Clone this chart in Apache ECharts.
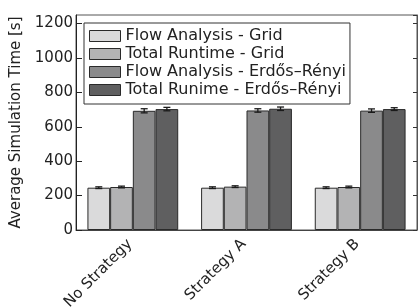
<!DOCTYPE html>
<html>
<head>
<meta charset="utf-8">
<script src="https://cdn.jsdelivr.net/npm/echarts@6/dist/echarts.min.js"></script>
<style>
html,body{margin:0;padding:0;background:#fff;}
#main{width:420px;height:307px;}
</style>
</head>
<body>
<div id="main"></div>
<script>
var categories = ['No Strategy', 'Strategy A', 'Strategy B'];
var seriesNames = ['Flow Analysis - Grid', 'Total Runtime - Grid', 'Flow Analysis - Erdős–Rényi', 'Total Runime - Erdős–Rényi'];
var flowGrid = [246, 246, 246];
var totalGrid = [250, 252, 250];
var flowER = [693, 695, 694];
var totalER = [703, 705, 703];
var errFlowGrid = [5, 5, 5];
var errTotalGrid = [5, 5, 5];
var errFlowER = [12, 10, 10];
var errTotalER = [10, 10, 8];
var yTicks = [0, 200, 400, 600, 800, 1000, 1200];

var barColors = ['#dadadb', '#b3b3b4', '#8a8a8b', '#5f5f60'];
var values = [flowGrid, totalGrid, flowER, totalER];
var errs = [errFlowGrid, errTotalGrid, errFlowER, errTotalER];
var barW = 22.7;
var font = 'DejaVu Sans';

var myChart = echarts.init(document.getElementById('main'));

var series = [];
for (var s = 0; s < 4; s++) {
	series.push({
		name: seriesNames[s],
		type: 'bar',
		barWidth: barW,
		barGap: 0,
		data: values[s],
		itemStyle: { color: barColors[s], borderColor: '#2a2a2a', borderWidth: 1 },
		emphasis: { disabled: true },
		z: 2
	});
}
// error bars, one custom series per bar series
for (var s2 = 0; s2 < 4; s2++) {
	(function (k) {
		var d = [];
		for (var i = 0; i < categories.length; i++) {
			d.push([i, values[k][i] - errs[k][i], values[k][i] + errs[k][i]]);
		}
		series.push({
			type: 'custom',
			name: 'err' + k,
			data: d,
			z: 5,
			encode: { x: 0, y: [1, 2] },
			renderItem: function (params, api) {
				var lo = api.coord([api.value(0), api.value(1)]);
				var hi = api.coord([api.value(0), api.value(2)]);
				var off = (k - 1.5) * barW;
				var x = lo[0] + off;
				var cap = 3.5;
				var st = { stroke: '#1a1a1a', lineWidth: 1.3 };
				return {
					type: 'group',
					children: [
						{ type: 'line', shape: { x1: x, y1: lo[1], x2: x, y2: hi[1] }, style: st },
						{ type: 'line', shape: { x1: x - cap, y1: lo[1], x2: x + cap, y2: lo[1] }, style: st },
						{ type: 'line', shape: { x1: x - cap, y1: hi[1], x2: x + cap, y2: hi[1] }, style: st }
					]
				};
			}
		});
	})(s2);
}

var option = {
	animation: false,
	backgroundColor: '#fff',
	textStyle: { fontFamily: font },
	grid: {
		left: 76, right: 3, top: 15, bottom: 77,
		containLabel: false,
		outerBoundsMode: 'none',
		show: true, borderColor: '#555', borderWidth: 1
	},
	legend: {
		data: seriesNames,
		orient: 'vertical',
		left: 84,
		top: 23,
		padding: [5, 4, 6, 5],
		itemWidth: 31,
		itemHeight: 11,
		itemGap: 2,
		backgroundColor: '#fff',
		borderColor: '#333',
		borderWidth: 1,
		borderRadius: 0,
		icon: 'rect',
		itemStyle: { borderColor: '#2a2a2a', borderWidth: 1 },
		textStyle: { fontFamily: font, fontSize: 16, color: '#222' },
		z: 10
	},
	xAxis: {
		type: 'category',
		data: categories,
		axisLine: { show: true, lineStyle: { color: '#444', width: 1 } },
		axisTick: { show: false },
		axisLabel: {
			rotate: 45,
			margin: 9,
			padding: [0, 4, 0, 0],
			fontFamily: font,
			fontSize: 15,
			color: '#222'
		},
		splitLine: { show: false }
	},
	yAxis: [{
		type: 'value',
		min: 0,
		max: 1250,
		interval: 200,
		name: 'Average Simulation Time [s]',
		nameLocation: 'middle',
		nameGap: 45,
		nameTextStyle: { fontFamily: font, fontSize: 15, color: '#222' },
		axisLine: { show: true, lineStyle: { color: '#222', width: 1 } },
		axisTick: { show: true, inside: true, length: 6, lineStyle: { color: '#222' } },
		axisLabel: {
			fontFamily: font, fontSize: 15, color: '#222', margin: 3,
			showMaxLabel: false,
			formatter: function (v) { return yTicks.indexOf(v) >= 0 ? String(v) : ''; }
		},
		splitLine: { show: false }
	}, {
		type: 'value',
		position: 'right',
		min: 0,
		max: 1250,
		interval: 200,
		axisLine: { show: true, lineStyle: { color: '#555', width: 1 } },
		axisTick: { show: true, inside: true, length: 4, lineStyle: { color: '#333' } },
		axisLabel: { show: false },
		splitLine: { show: false }
	}],
	series: series
};

myChart.setOption(option);
</script>
</body>
</html>
